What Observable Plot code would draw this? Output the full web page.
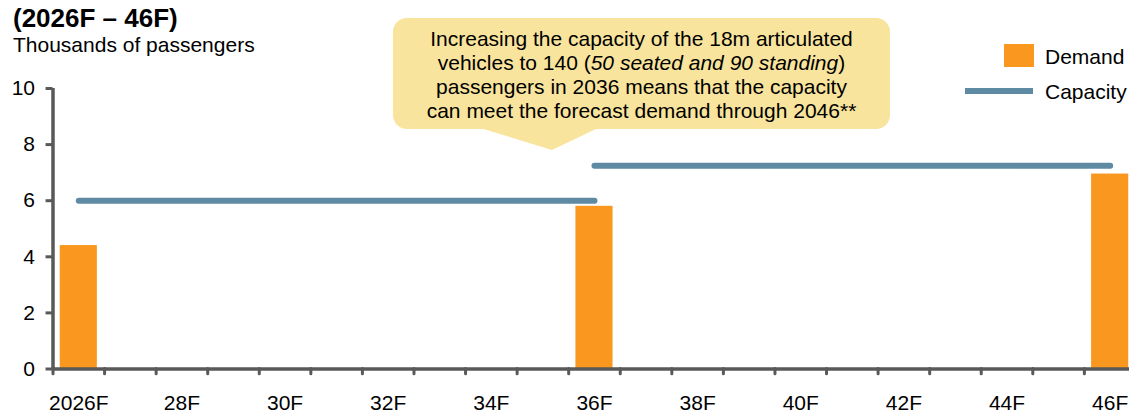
<!DOCTYPE html>
<html>
<head>
<meta charset="utf-8">
<script src="https://cdn.jsdelivr.net/npm/d3@7"></script>
<script src="https://cdn.jsdelivr.net/npm/@observablehq/plot@0.6"></script>
<style>
  html, body { margin: 0; padding: 0; background: #fff; }
  #wrap { position: relative; width: 1129px; height: 415px; overflow: hidden; font-family: "Liberation Sans", Arial, sans-serif; color: #000; }
  #chart { position: absolute; left: 0; top: 0; }
  .ov { position: absolute; white-space: nowrap; }
  #title { left: 13px; top: 3px; font-size: 26px; font-weight: bold; line-height: 30px; }
  #subtitle { left: 13px; top: 32.7px; font-size: 21px; line-height: 24px; }
  #callout { left: 393px; top: 18px; width: 497px; height: 111px; background: #F8E49C; border-radius: 14px; box-sizing: border-box; padding-top: 8.5px; text-align: center; font-size: 21px; line-height: 24.3px; }
  #arrow { left: 477px; top: 127px; width: 123px; height: 23px; background: #F8E49C; clip-path: polygon(0 0, 100% 0, 61% 100%); }
  .leg-text { font-size: 21px; line-height: 24px; left: 1045px; }
</style>
</head>
<body>
<div id="wrap">
  <div id="chart"></div>
  <div class="ov" id="title">(2026F – 46F)</div>
  <div class="ov" id="subtitle">Thousands of passengers</div>
  <div class="ov" id="callout">Increasing the capacity of the 18m articulated<br>vehicles to 140 (<i>50 seated and 90 standing</i>)<br>passengers in 2036 means that the capacity<br>can meet the forecast demand through 2046**</div>
  <div class="ov" id="arrow"></div>
  <div class="ov" id="leg-demand-swatch" style="left:1004px;top:44px;width:30px;height:23px;"></div>
  <div class="ov leg-text" style="top:44.7px;">Demand</div>
  <div class="ov" id="leg-cap-swatch" style="left:965px;top:88px;width:68px;height:6px;"></div>
  <div class="ov leg-text" style="top:79.7px;">Capacity</div>
</div>
<script>
// ---- data ----
const years = [2026, 2027, 2028, 2029, 2030, 2031, 2032, 2033, 2034, 2035, 2036,
               2037, 2038, 2039, 2040, 2041, 2042, 2043, 2044, 2045, 2046];
const tickYears = [2026, 2028, 2030, 2032, 2034, 2036, 2038, 2040, 2042, 2044, 2046];
const tickLabels = ["2026F", "28F", "30F", "32F", "34F", "36F", "38F", "40F", "42F", "44F", "46F"];
const demandYears = [2026, 2036, 2046];
const demandValues = [4.4, 5.8, 6.95];
const capacityStart = [2026, 2036];
const capacityEnd = [2036, 2046];
const capacityValues = [6.0, 7.25];
const yTicks = [0, 2, 4, 6, 8, 10];

// ---- styles ----
const orange = "#F9971F";
const blue = "#5F8AA3";
const axisGray = "#595959";
document.getElementById("leg-demand-swatch").style.background = orange;
document.getElementById("leg-cap-swatch").style.background = blue;

const demand = demandYears.map((y, i) => ({year: y, value: demandValues[i]}));
const capacity = capacityValues.map((v, i) => ({x1: capacityStart[i], x2: capacityEnd[i], value: v}));
const boundaries = years.map(y => y - 0.5);
const labelOf = new Map(tickYears.map((y, i) => [y, tickLabels[i]]));
const x0 = 2025.5;

const chart = Plot.plot({
  width: 1129,
  height: 415,
  marginLeft: 52.5,
  marginRight: 0,
  marginTop: 88,
  marginBottom: 46.5,
  style: {fontFamily: "'Liberation Sans', Arial, sans-serif", fontSize: "21px", color: "#000", background: "transparent", overflow: "visible"},
  x: {type: "linear", domain: [x0, 2046.375], axis: null, label: null},
  y: {domain: [0, 10], axis: null, label: null},
  marks: [
    Plot.rectY(demand, {x1: d => d.year - 0.36, x2: d => d.year + 0.36, y1: 0, y2: "value", fill: orange}),
    Plot.link(capacity, {x1: "x1", x2: "x2", y1: "value", y2: "value", stroke: blue, strokeWidth: 6, strokeLinecap: "round"}),
    // x tick marks at category boundaries
    Plot.ruleX(boundaries, {y1: 0, y2: -0.19, stroke: axisGray, strokeWidth: 3, strokeLinecap: "round"}),
    // y tick marks
    Plot.ruleY(yTicks, {x1: x0, x2: x0 - 0.135, stroke: axisGray, strokeWidth: 3}),
    Plot.axisX(tickYears, {tickSize: 0, tickPadding: 26.5, tickFormat: d => labelOf.get(d), fontSize: 21, fill: "#000", label: null}),
    Plot.axisY(yTicks, {tickSize: 0, tickPadding: 18, fontSize: 21, fill: "#000", label: null}),
    Plot.ruleX([x0], {y1: 0, y2: 10, stroke: axisGray, strokeWidth: 3.5}),
    Plot.ruleY([0], {stroke: axisGray, strokeWidth: 3.5})
  ]
});
document.getElementById("chart").appendChild(chart);
</script>
</body>
</html>
